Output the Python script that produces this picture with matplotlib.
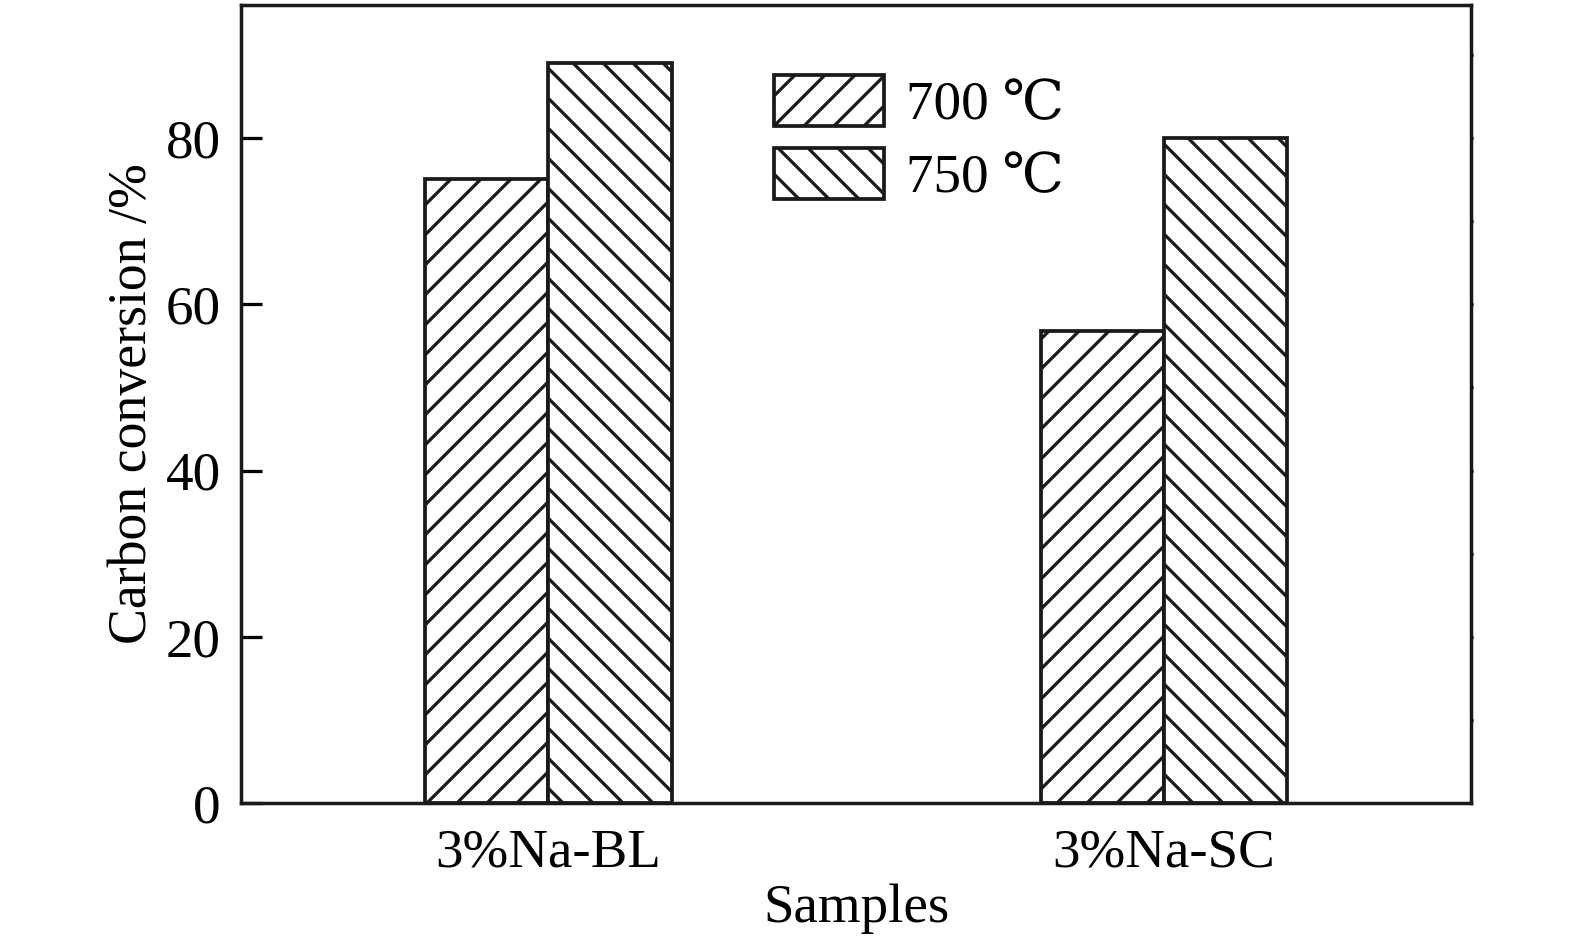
import matplotlib
matplotlib.use("Agg")
import matplotlib.pyplot as plt
import numpy as np

plt.rcParams['font.family'] = ['Liberation Serif', 'DejaVu Serif']
plt.rcParams['hatch.linewidth'] = 1.3

samples = ['3%Na-BL', '3%Na-SC']
temps = ['700 \u2103', '750 \u2103']
conv_700 = [75.0, 56.8]
conv_750 = [89.0, 80.0]
yticks = [0, 20, 40, 60, 80]

fig = plt.figure(figsize=(8.75, 5.25), dpi=180)
ax = fig.add_axes([0.153, 0.150, 0.781, 0.845])

x = np.arange(len(samples))
w = 0.2
ax.bar(x - w / 2, conv_700, w, facecolor='white', edgecolor='#1a1a1a',
       linewidth=1.5, hatch='//', label=temps[0])
ax.bar(x + w / 2, conv_750, w, facecolor='white', edgecolor='#1a1a1a',
       linewidth=1.5, hatch='\\\\', label=temps[1])

ax.set_xlim(-0.5, 1.5)
ax.set_ylim(0, 96)
ax.set_xticks(x)
ax.set_xticklabels(samples)
ax.set_yticks(yticks)
ax.tick_params(axis='x', length=0, labelsize=22, pad=10)
ax.tick_params(axis='y', direction='in', length=8.5, width=1.3, labelsize=22, pad=8)
# tiny marks on right spine
ax2 = ax.twinx()
ax2.set_ylim(0, 96)
ax2.set_yticks(np.arange(10, 96, 10))
ax2.tick_params(axis='y', direction='out', length=0.8, width=1.2, labelright=False)

for sp in ax.spines.values():
    sp.set_linewidth(1.4)
    sp.set_color('#1a1a1a')
for sp in ax2.spines.values():
    sp.set_visible(False)

ax.set_xlabel('Samples', fontsize=22, labelpad=2)
ax.set_ylabel('Carbon conversion /%', fontsize=21.5, labelpad=3)

ax.legend(loc='upper left', bbox_to_anchor=(0.433, 0.912), frameon=False,
          fontsize=22, handlelength=2.0, handleheight=1.05, borderpad=0,
          borderaxespad=0, labelspacing=0.3, handletextpad=0.4)

fig.savefig('out.png', dpi=180)
